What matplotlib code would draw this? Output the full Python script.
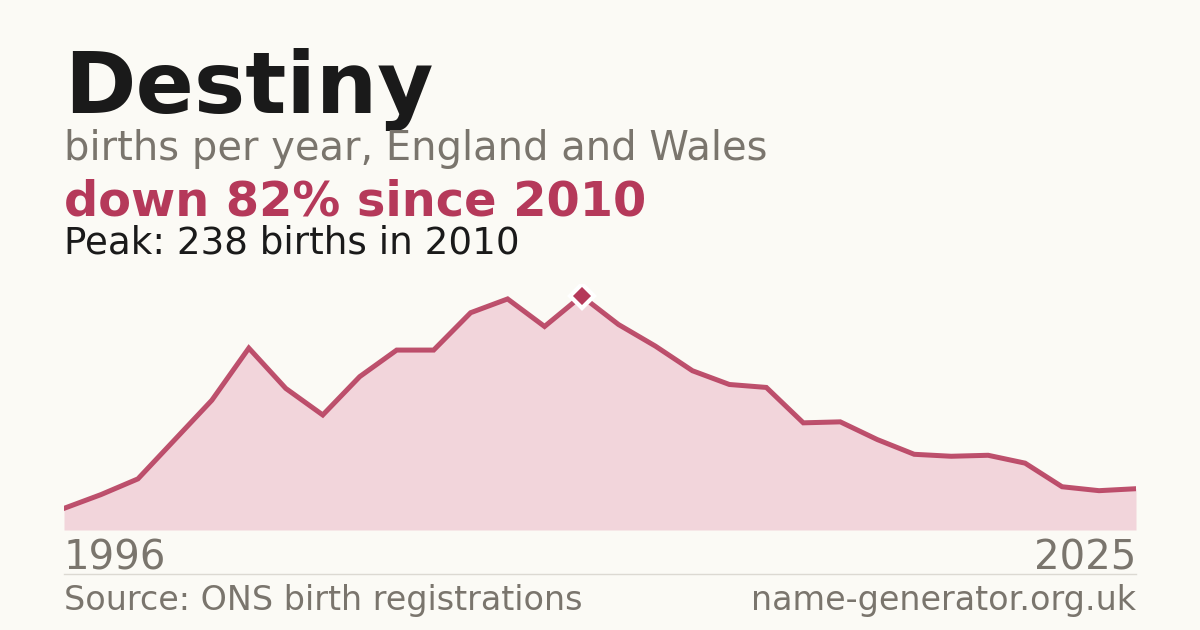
import matplotlib
matplotlib.use("Agg")
from matplotlib import pyplot as plt

plt.rcParams["font.family"] = ["DejaVu Sans"]

years = list(range(1996, 2026))
births = [22, 36, 52, 92, 132, 185, 144, 117, 156, 183,
          183, 221, 235, 207, 238, 209, 187, 162, 148, 145,
          109, 110, 92, 77, 75, 76, 68, 44, 40, 42]

name = "Destiny"
subtitle = "births per year, England and Wales"
headline = "down 82% since 2010"
peak_text = "Peak: 238 births in 2010"
source = "Source: ONS birth registrations"
site = "name-generator.org.uk"

bg = "#fbfaf5"
red = "#b5395a"
grey = "#7a756d"

W, H = 1200, 630
fig = plt.figure(figsize=(12, 6.3), dpi=100, facecolor=bg)

def fy(px):
    return 1 - px / H

# chart area
ax = fig.add_axes([64 / W, 100 / H, 1072 / W, 245.8 / H])
ax.set_facecolor("none")
ax.fill_between(years, births, 0, color="#f2d5db", lw=0)
ax.plot(years, births, color=red, lw=3.6, alpha=0.88, solid_joinstyle="miter")
i = births.index(max(births))
ax.plot(years[i], births[i], marker="D", ms=12, color=red,
        mec="white", mew=3)
ax.set_xlim(years[0], years[-1])
ax.set_ylim(0, 250)
ax.axis("off")

# header texts
fig.text(64 / W, fy(113), name, fontsize=62, fontweight="bold",
         color="#1a1a1a", va="baseline")
fig.text(64 / W, fy(160), subtitle, fontsize=28.8, color=grey, va="baseline")
fig.text(64 / W, fy(215), headline, fontsize=34.5, fontweight="bold",
         color=red, va="baseline")
fig.text(64 / W, fy(253), peak_text, fontsize=26.8, color="#1a1a1a",
         va="baseline")

# axis end labels
fig.text(64 / W, fy(570), str(years[0]), fontsize=29, color=grey,
         va="baseline")
fig.text(1136 / W, fy(570), str(years[-1]), fontsize=29, color=grey,
         va="baseline", ha="right")

# separator and footer
fig.add_artist(plt.Line2D([64 / W, 1136 / W], [fy(574), fy(574)],
                          color="#dcd9d2", lw=1))
fig.text(64 / W, fy(610), source, fontsize=24, color=grey, va="baseline")
fig.text(1136 / W, fy(610), site, fontsize=24, color=grey, va="baseline",
         ha="right")

fig.savefig("out.png", dpi=100, facecolor=bg)
